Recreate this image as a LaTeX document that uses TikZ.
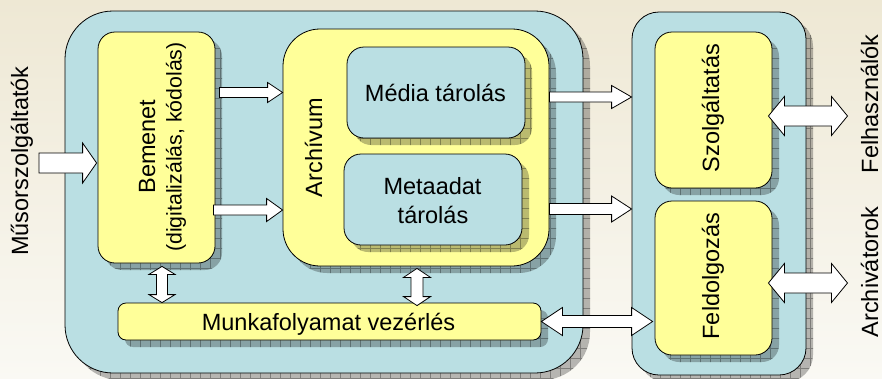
\documentclass[tikz,border=0pt]{standalone}
\usepackage{fontspec}
\setmainfont{Liberation Sans}
\usetikzlibrary{shadows,patterns.meta,calc}
\definecolor{boxblue}{RGB}{186,223,227}
\definecolor{boxyellow}{RGB}{255,255,153}
\definecolor{bgtop}{RGB}{238,232,212}
\definecolor{bgbot}{RGB}{250,249,244}
\newcommand\mainsize{\fontsize{23.5}{28}\selectfont}
\newcommand\smallsize{\fontsize{21.3}{26}\selectfont}
\tikzset{
  box/.style={draw=black, line width=0.8pt, inner sep=0pt,
    drop shadow={shadow xshift=7pt,shadow yshift=-7pt,fill=black,opacity=.27},
    drop shadow={shadow xshift=7pt,shadow yshift=-7pt,pattern={Hatch[angle=0,distance=10pt,line width=.5pt]},pattern color=black,opacity=.3}},
  bluebox/.style={box, fill=boxblue},
  yellowbox/.style={box, fill=boxyellow},
  blockarrow/.style={draw=black, line width=0.8pt, fill=white, line join=miter},
  lbl/.style={inner sep=0pt, font=\mainsize, anchor=base},
  vlbl/.style={lbl, rotate=90},
}
% right-pointing block arrow: tail, tip, shaft half width, head half width, head length
\newcommand\harrowR[5]{%
  \draw[blockarrow] let \p1=(#1), \p2=(#2) in
    (\x1,{\y1+#3pt}) -- ({\x2-#5pt},{\y1+#3pt}) -- ({\x2-#5pt},{\y1+#4pt}) -- (\x2,\y1)
    -- ({\x2-#5pt},{\y1-#4pt}) -- ({\x2-#5pt},{\y1-#3pt}) -- (\x1,{\y1-#3pt}) -- cycle;}
% horizontal double block arrow: left tip, right tip, shaft half, head half, head length
\newcommand\harrowD[5]{%
  \draw[blockarrow] let \p1=(#1), \p2=(#2) in
    (\x1,\y1) -- ({\x1+#5pt},{\y1+#4pt}) -- ({\x1+#5pt},{\y1+#3pt}) -- ({\x2-#5pt},{\y1+#3pt})
    -- ({\x2-#5pt},{\y1+#4pt}) -- (\x2,\y1) -- ({\x2-#5pt},{\y1-#4pt}) -- ({\x2-#5pt},{\y1-#3pt})
    -- ({\x1+#5pt},{\y1-#3pt}) -- ({\x1+#5pt},{\y1-#4pt}) -- cycle;}
% vertical double block arrow: top tip, bottom tip, shaft half, head half, head length
\newcommand\varrowD[5]{%
  \draw[blockarrow] let \p1=(#1), \p2=(#2) in
    (\x1,\y1) -- ({\x1+#4pt},{\y1-#5pt}) -- ({\x1+#3pt},{\y1-#5pt}) -- ({\x1+#3pt},{\y2+#5pt})
    -- ({\x1+#4pt},{\y2+#5pt}) -- (\x1,\y2) -- ({\x1-#4pt},{\y2+#5pt}) -- ({\x1-#3pt},{\y2+#5pt})
    -- ({\x1-#3pt},{\y1-#5pt}) -- ({\x1-#4pt},{\y1-#5pt}) -- cycle;}
\begin{document}
\begin{tikzpicture}[x=1pt,y=-1pt]
\useasboundingbox (0,0) rectangle (882,378);
\shade[top color=bgtop,bottom color=bgbot] (0,0) rectangle (882,378);

% boxes
\node[bluebox, rounded corners=48pt, minimum width=518pt, minimum height=362pt] (outer) at (324,192) {};
\node[bluebox, rounded corners=27pt, minimum width=174pt, minimum height=363pt] (right) at (719,193.5) {};
\node[yellowbox, rounded corners=17pt, minimum width=117pt, minimum height=231pt] (bem) at (156.5,147.5) {};
\node[yellowbox, rounded corners=37pt, minimum width=266pt, minimum height=237pt] (arch) at (416,147.5) {};
\node[bluebox, rounded corners=17pt, minimum width=178pt, minimum height=91pt] (med) at (436,92.5) {};
\node[bluebox, rounded corners=17pt, minimum width=178pt, minimum height=91pt] (meta) at (433,199.5) {};
\node[yellowbox, rounded corners=8pt, minimum width=423pt, minimum height=37pt] (munka) at (329.5,321.5) {};
\node[yellowbox, rounded corners=17pt, minimum width=117pt, minimum height=156pt] (szolg) at (713.5,110) {};
\node[yellowbox, rounded corners=17pt, minimum width=117pt, minimum height=154pt] (feld) at (713.5,278) {};

% texts
\node[vlbl] (musor) at (28,161) {Műsorszolgáltatók};
\node[vlbl] (bemA) at (155,146.5) {Bemenet};
\node[vlbl, font=\smallsize] (bemB) at (181.5,147) {(digitalizálás, kódolás)};
\node[vlbl] (archT) at (322,147.5) {Archívum};
\node[lbl] (medT) at (435.5,101.7) {Média tárolás};
\node[lbl] (metaA) at (432.5,194) {Metaadat};
\node[lbl] (metaB) at (433,223) {tárolás};
\node[lbl] (munkaT) at (328.5,330) {Munkafolyamat vezérlés};
\node[vlbl] (szolgT) at (719,108) {Szolgáltatás};
\node[vlbl] (feldT) at (719,276) {Feldolgozás};
\node[vlbl] (felh) at (878,104) {Felhasználók};
\node[vlbl] (archiv) at (878,272) {Archivátorok};

% connector end points
\coordinate (src) at ([xshift=6pt,yshift=-2pt]musor.south);
\coordinate (t2) at ([xshift=4pt]bem.east |- med.center);
\coordinate (t3) at ([xshift=-2pt,yshift=-62.5pt]bem.east);
\coordinate (t4) at ([yshift=-4.5pt]arch.east |- med.center);
\coordinate (t5) at ([yshift=-9.5pt]arch.east |- meta.center);
\coordinate (a7) at ([xshift=-4pt,yshift=-6pt]szolg.east);
\coordinate (b7) at ([xshift=-13pt]felh.north |- a7);
\coordinate (a8) at ([xshift=-4pt,yshift=-5pt]feld.east);
\coordinate (b8) at ([xshift=-13pt]archiv.north |- a8);
\coordinate (t9) at ([xshift=5.5pt,yshift=-3pt]bem.south);
\coordinate (t10) at ([xshift=1pt,yshift=-2pt]arch.south);

% arrows
\harrowR{src}{[xshift=-1pt]bem.west |- src}{10}{20}{14}
\harrowR{t2}{arch.west |- t2}{5}{10}{15}
\harrowR{t3}{arch.west |- t3}{5}{11.5}{16}
\harrowR{t4}{right.west |- t4}{5}{11.5}{20}
\harrowR{t5}{right.west |- t5}{5.5}{13}{20}
\harrowD{munka.east}{[xshift=-2pt]feld.west |- munka.east}{6}{14}{21}
\harrowD{a7}{b7}{10}{19.5}{16}
\harrowD{a8}{b8}{10}{19.5}{16}
\varrowD{t9}{t9 |- munka.north}{5.5}{13}{8}
\varrowD{t10}{[yshift=-3pt]t10 |- munka.north}{6}{13.5}{9}
\end{tikzpicture}
\end{document}
